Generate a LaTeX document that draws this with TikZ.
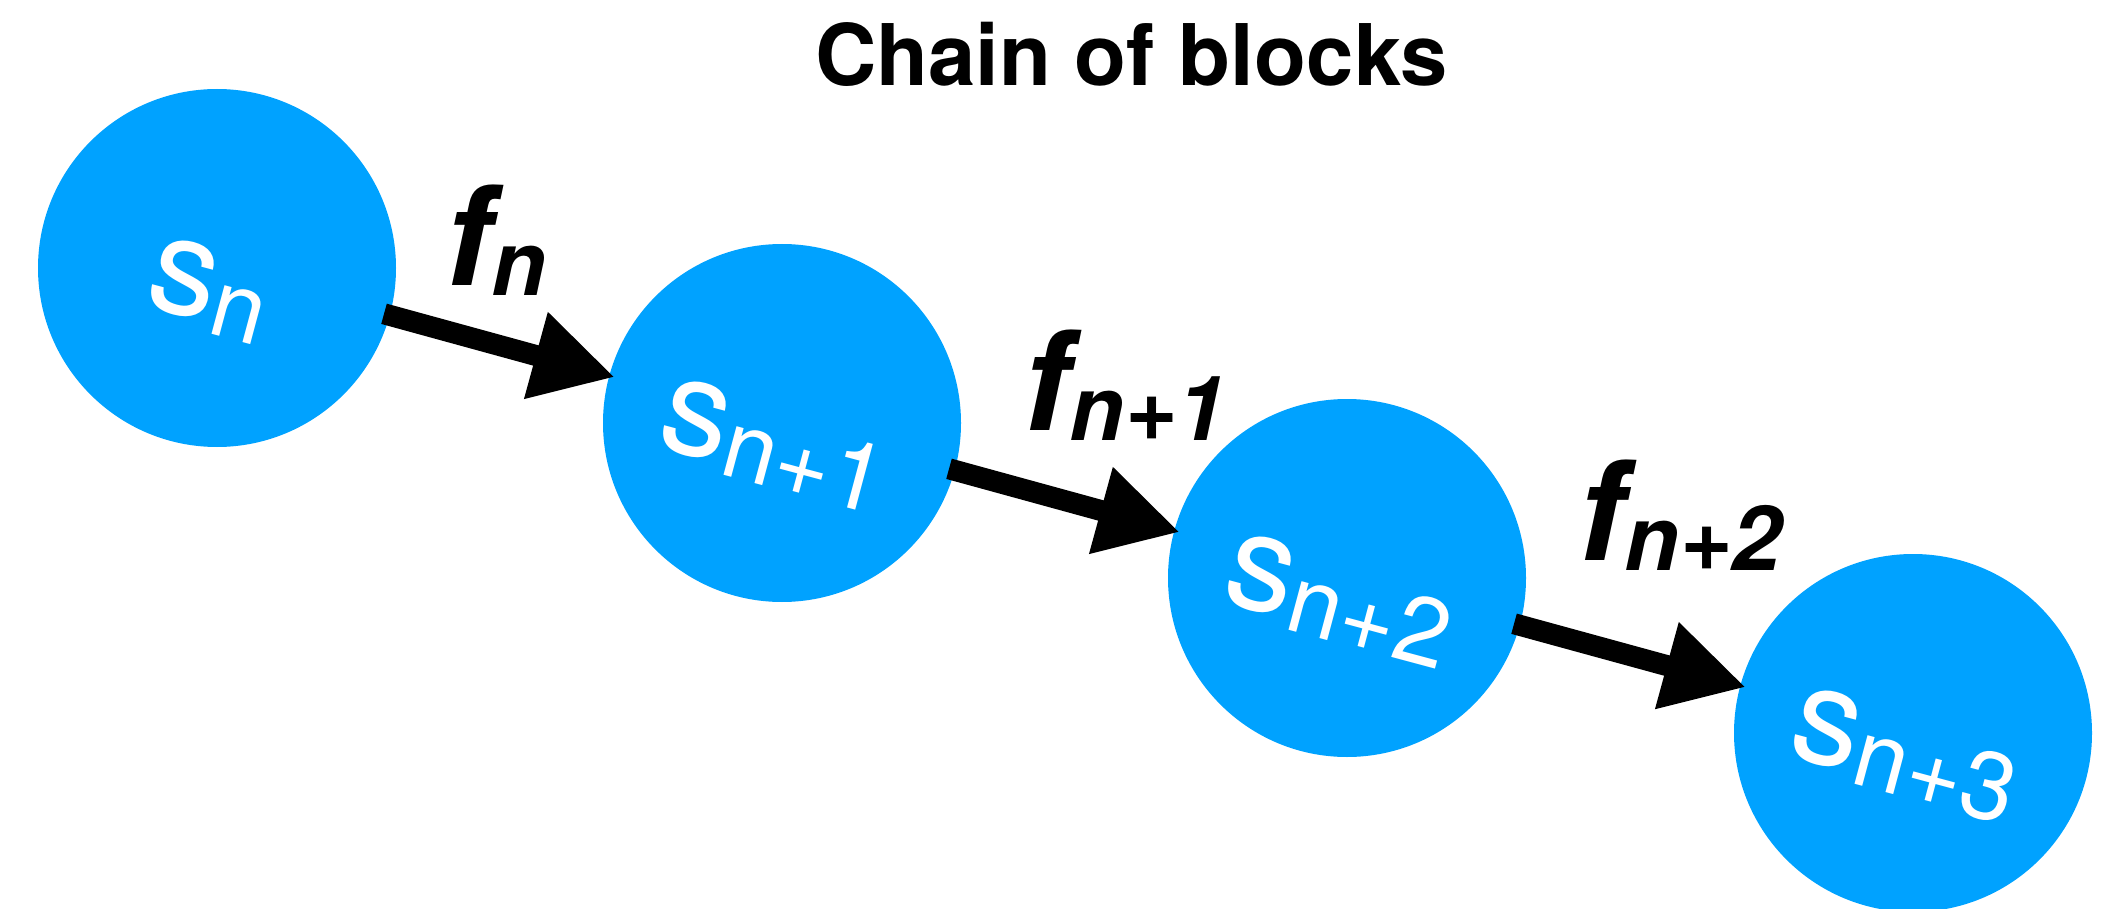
\documentclass[tikz,border=0pt]{standalone}
\usepackage{fontspec}
\setmainfont{TeX Gyre Heros}
\usetikzlibrary{arrows.meta}
\definecolor{blockblue}{RGB}{0,162,255}
\newcommand\flab[1]{\fontsize{138}{138}\selectfont\bfseries\itshape f\raisebox{-10pt}{\fontsize{90}{90}\selectfont #1}}
\newcommand\slab[1]{\fontsize{136}{136}\selectfont s\raisebox{-11pt}{\fontsize{96}{96}\selectfont #1}}
\begin{document}
\begin{tikzpicture}[x=1pt,y=1pt,
  block/.style={circle, fill=blockblue, minimum size=358pt, inner sep=0pt},
  conn/.style={line width=21pt, -{Triangle[length=82pt,width=84pt]}, shorten <=-6pt, shorten >=-6pt},
  blocklabel/.style={text=white, rotate=-15, inner sep=0pt},
  funclabel/.style={anchor=base west, inner sep=0pt},
]
\useasboundingbox (0,0) rectangle (2126,-909);
\node[block] (b0) at (217,-268) {};
\node[block] (b1) at (782,-423) {};
\node[block] (b2) at (1347,-578) {};
\node[block] (b3) at (1913,-733) {};
\node[blocklabel] (l0) at ([shift={(-8,-22)}]b0.center) {\slab{n}};
\node[blocklabel] (l1) at ([shift={(-8,-22)}]b1.center) {\slab{n+1}};
\node[blocklabel] (l2) at ([shift={(-8,-22)}]b2.center) {\slab{n+2}};
\node[blocklabel] (l3) at ([shift={(-8,-22)}]b3.center) {\slab{n+3}};
\draw[conn] (b0) -- (b1);
\draw[conn] (b1) -- (b2);
\draw[conn] (b2) -- (b3);
\node[funclabel] (f0) at (445,-286) {\flab{n}};
\node[funclabel] (f1) at (1023,-430) {\flab{n+1}};
\node[funclabel] (f2) at (1578,-560) {\flab{n+2}};
\node[anchor=base west, inner sep=0pt, font=\fontsize{85}{85}\selectfont\bfseries] (title) at (815,-86) {Chain of blocks};
\end{tikzpicture}
\end{document}
